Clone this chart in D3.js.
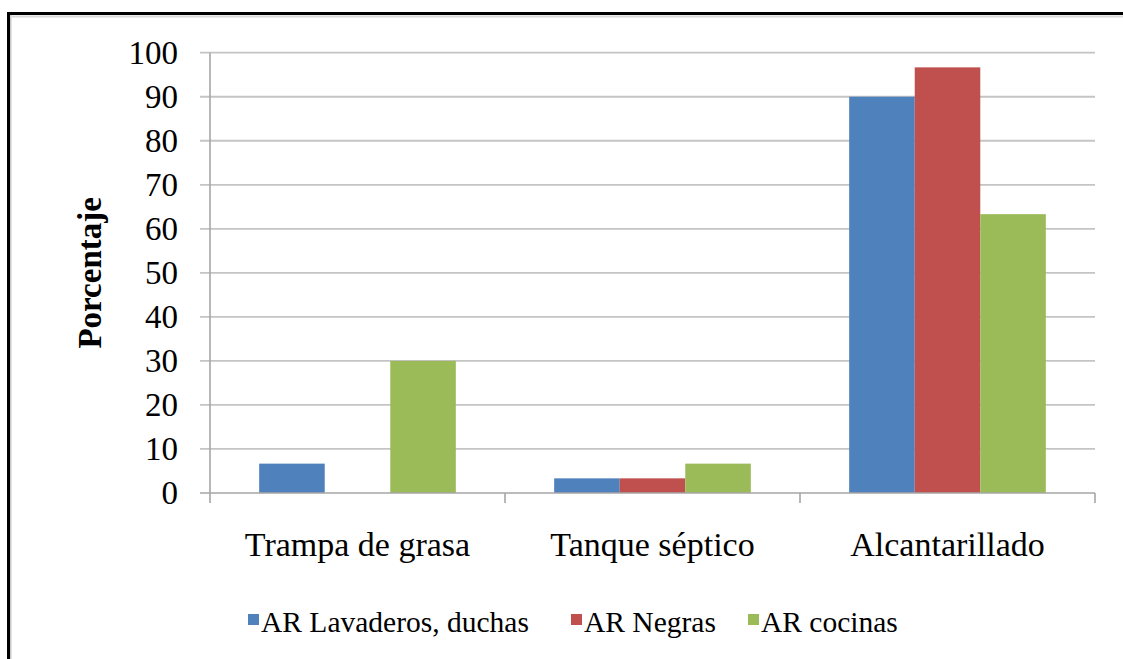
<!DOCTYPE html>
<html>
<head>
<meta charset="utf-8">
<script src="https://cdn.jsdelivr.net/npm/d3@7"></script>
<style>
  html, body { margin: 0; padding: 0; background: #fff; }
  svg { display: block; }
</style>
</head>
<body>
<svg id="chart" width="1123" height="659"></svg>
<script>
const categories = ["Trampa de grasa", "Tanque séptico", "Alcantarillado"];
const seriesNames = ["AR Lavaderos, duchas", "AR Negras", "AR cocinas"];
const seriesColors = ["#4F81BD", "#C0504D", "#9BBB59"];
const lavaderos = [6.67, 3.33, 90.0];
const negras = [0, 3.33, 96.67];
const cocinas = [30.0, 6.67, 63.33];
const yTicks = [0, 10, 20, 30, 40, 50, 60, 70, 80, 90, 100];
const yTitle = "Porcentaje";

const seriesValues = [lavaderos, negras, cocinas];

const svg = d3.select("#chart");
const W = 1123, H = 659;
const plot = { left: 210, right: 1095, top: 52.7, bottom: 493 };

// frame (document border)
svg.append("rect").attr("x", 0).attr("y", 0).attr("width", W).attr("height", H).attr("fill", "#fff");
svg.append("line").attr("x1", 10.5).attr("x2", 10.5).attr("y1", 15).attr("y2", H).attr("stroke", "#c8c8c8").attr("stroke-width", 2);
svg.append("line").attr("x1", 10).attr("x2", W).attr("y1", 16.5).attr("y2", 16.5).attr("stroke", "#d8d8d8").attr("stroke-width", 2);
svg.append("line").attr("x1", 8.5).attr("x2", 8.5).attr("y1", 12).attr("y2", H).attr("stroke", "#000").attr("stroke-width", 3);
svg.append("line").attr("x1", 7).attr("x2", W).attr("y1", 13.5).attr("y2", 13.5).attr("stroke", "#000").attr("stroke-width", 3);

const x0 = d3.scaleBand().domain(categories).range([plot.left, plot.right]).paddingInner(0).paddingOuter(0);
const x1 = d3.scaleBand().domain(seriesNames).range([0, x0.bandwidth()]).paddingInner(0).paddingOuter(0.75);
const y = d3.scaleLinear().domain([0, 100]).range([plot.bottom, plot.top]);

const font = "'Liberation Serif', 'Times New Roman', 'DejaVu Serif', serif";

// gridlines
svg.append("g").selectAll("line").data(yTicks.filter(t => t > 0)).join("line")
  .attr("x1", plot.left - 10).attr("x2", plot.right)
  .attr("y1", d => y(d)).attr("y2", d => y(d))
  .attr("stroke", "#c4c4c4").attr("stroke-width", 1.8);

// bars
const groups = svg.append("g").selectAll("g").data(categories).join("g")
  .attr("transform", d => `translate(${x0(d)},0)`);
groups.selectAll("rect").data((c, ci) => seriesNames.map((s, si) => ({ s, si, v: seriesValues[si][ci] })))
  .join("rect")
  .attr("x", d => x1(d.s))
  .attr("width", x1.bandwidth())
  .attr("y", d => y(d.v))
  .attr("height", d => y(0) - y(d.v))
  .attr("fill", d => seriesColors[d.si]);

// y axis line
svg.append("line").attr("x1", plot.left).attr("x2", plot.left).attr("y1", plot.top).attr("y2", plot.bottom + 10)
  .attr("stroke", "#a6a6a6").attr("stroke-width", 1.6);
// baseline
svg.append("line").attr("x1", plot.left - 10).attr("x2", plot.right).attr("y1", y(0)).attr("y2", y(0))
  .attr("stroke", "#a6a6a6").attr("stroke-width", 1.6);
// category ticks
const bounds = categories.map(c => x0(c) + x0.bandwidth());
svg.append("g").selectAll("line").data(bounds).join("line")
  .attr("x1", d => d).attr("x2", d => d).attr("y1", y(0)).attr("y2", y(0) + 10)
  .attr("stroke", "#a6a6a6").attr("stroke-width", 1.6);

// y tick labels
svg.append("g").selectAll("text").data(yTicks).join("text")
  .attr("x", 178).attr("y", d => y(d) + 11)
  .attr("text-anchor", "end")
  .attr("font-family", font).attr("font-size", 33).attr("fill", "#000")
  .text(d => d);

// category labels
svg.append("g").selectAll("text").data(categories).join("text")
  .attr("x", d => x0(d) + x0.bandwidth() / 2).attr("y", 556)
  .attr("text-anchor", "middle")
  .attr("font-family", font).attr("font-size", 34).attr("fill", "#000")
  .text(d => d);

// y title
svg.append("text")
  .attr("transform", `translate(101, ${(plot.top + plot.bottom) / 2}) rotate(-90)`)
  .attr("text-anchor", "middle")
  .attr("font-family", font).attr("font-size", 33).attr("font-weight", "bold").attr("fill", "#000")
  .text(yTitle);

// legend
const legendX = [248, 571, 748];
const leg = svg.append("g").selectAll("g").data(seriesNames).join("g")
  .attr("transform", (d, i) => `translate(${legendX[i]}, 632)`);
leg.append("rect").attr("x", 0).attr("y", -18).attr("width", 11).attr("height", 11)
  .attr("fill", (d, i) => seriesColors[i]);
leg.append("text").attr("x", 13).attr("y", 0)
  .attr("font-family", font).attr("font-size", 29.5).attr("fill", "#000")
  .text(d => d);
</script>
</body>
</html>
